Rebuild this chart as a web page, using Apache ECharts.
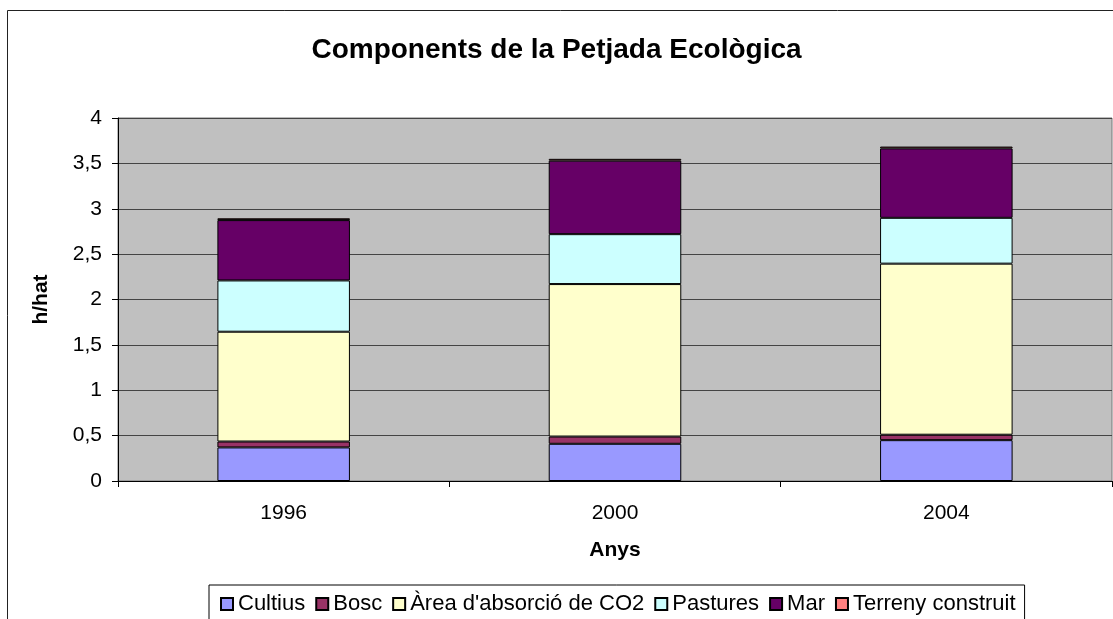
<!DOCTYPE html>
<html>
<head>
<meta charset="utf-8">
<script src="https://cdn.jsdelivr.net/npm/echarts@6/dist/echarts.min.js"></script>
<style>
html,body{margin:0;padding:0;background:#fff;}
#chart{width:1113px;height:619px;}
</style>
</head>
<body>
<div id="chart"></div>
<script>
var years = ['1996', '2000', '2004'];
var cultius = [0.37, 0.41, 0.45];
var bosc = [0.065, 0.08, 0.06];
var co2 = [1.21, 1.68, 1.885];
var pastures = [0.565, 0.55, 0.505];
var mar = [0.665, 0.81, 0.765];
var terreny = [0.02, 0.02, 0.02];

var seriesNames = ['Cultius', 'Bosc', "Àrea d'absorció de CO2", 'Pastures', 'Mar', 'Terreny construit'];
var seriesData = [cultius, bosc, co2, pastures, mar, terreny];
var seriesColors = ['#9999FF', '#993366', '#FFFFCC', '#CCFFFF', '#660066', '#FF8080'];

var FONT = '"Liberation Sans", Arial, sans-serif';
var chart = echarts.init(document.getElementById('chart'), null, {renderer: 'canvas'});

var series = seriesNames.map(function (n, i) {
  return {
    name: n,
    type: 'bar',
    stack: 'total',
    barWidth: '40%',
    data: seriesData[i],
    itemStyle: {color: seriesColors[i], borderColor: '#000', borderWidth: 1},
    emphasis: {disabled: true}
  };
});

chart.setOption({
  animation: false,
  textStyle: {fontFamily: FONT},
  title: {
    text: 'Components de la Petjada Ecològica',
    left: 'center',
    top: 36,
    padding: 0,
    textStyle: {fontFamily: FONT, fontSize: 28, fontWeight: 'bold', color: '#000'}
  },
  graphic: [{
    type: 'rect',
    shape: {x: 7.5, y: 10.5, width: 1300, height: 800},
    style: {fill: 'none', stroke: '#222', lineWidth: 1},
    silent: true,
    z: -1
  }],
  legend: {
    data: seriesNames,
    left: 209,
    top: 585,
    padding: [8, 9, 20, 11],
    itemGap: 10,
    itemWidth: 12,
    itemHeight: 12,
    icon: 'rect',
    borderColor: '#000',
    borderWidth: 1,
    backgroundColor: '#fff',
    textStyle: {fontFamily: FONT, fontSize: 22, color: '#000'}
  },
  grid: {
    left: 118, right: 1, top: 118, bottom: 138,
    show: true, backgroundColor: '#C0C0C0', borderColor: '#777', borderWidth: 1,
    containLabel: false
  },
  xAxis: {
    type: 'category',
    data: years,
    name: 'Anys',
    nameLocation: 'middle',
    nameGap: 59,
    nameTextStyle: {fontFamily: FONT, fontSize: 21, fontWeight: 'bold', color: '#000'},
    axisLine: {lineStyle: {color: '#000', width: 1}},
    axisTick: {show: true, length: 6, lineStyle: {color: '#000'}},
    axisLabel: {fontFamily: FONT, fontSize: 21, color: '#000', margin: 22},
    splitLine: {show: false}
  },
  yAxis: {
    type: 'value',
    min: 0,
    max: 4,
    interval: 0.5,
    name: 'h/hat',
    nameLocation: 'middle',
    nameGap: 66,
    nameTextStyle: {fontFamily: FONT, fontSize: 21, fontWeight: 'bold', color: '#000'},
    axisLine: {show: true, lineStyle: {color: '#000', width: 1}},
    axisTick: {show: true, length: 6, lineStyle: {color: '#000'}},
    axisLabel: {
      fontFamily: FONT, fontSize: 21, color: '#000', margin: 16,
      formatter: function (v) { return String(v).replace('.', ','); }
    },
    splitLine: {show: true, lineStyle: {color: '#444', width: 1}}
  },
  series: series
});
</script>
</body>
</html>
